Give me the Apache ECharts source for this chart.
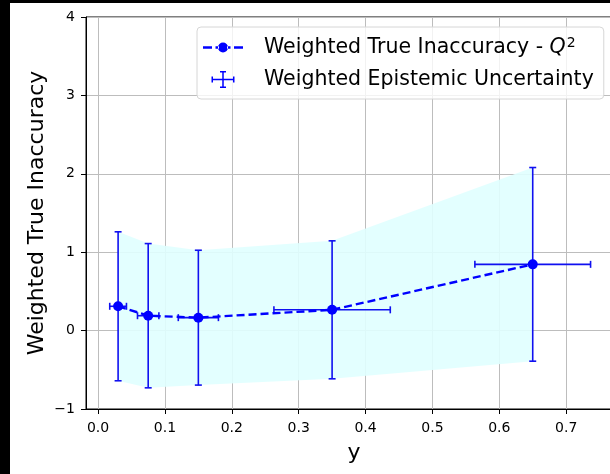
<!DOCTYPE html>
<html>
<head>
<meta charset="utf-8">
<script src="https://cdn.jsdelivr.net/npm/echarts@6/dist/echarts.min.js"></script>
<style>
  html, body { margin: 0; padding: 0; background: #000; overflow: hidden; }
  #chart { position: absolute; left: 10px; top: 3px; width: 612px; height: 471px; background: #fff; }
</style>
</head>
<body>
<div id="chart"></div>
<script>
// bin centres (y), weighted true inaccuracy and the error sizes
const xVals = [0.03, 0.075, 0.15, 0.35, 0.65];
const yVals = [0.31, 0.19, 0.165, 0.265, 0.845];
const xErr = [0.0125, 0.016, 0.03, 0.087, 0.0865];
const yErr = [0.95, 0.92, 0.86, 0.88, 1.235];

const lineName = 'Weighted True Inaccuracy - Q2';
const errName = 'Weighted Epistemic Uncertainty';
const blue = '#0000ff';
const font = 'DejaVu Sans';

var chartDom = document.getElementById('chart');
var myChart = echarts.init(chartDom);

// data rows for the series
var linePts = xVals.map(function (x, i) { return [x, yVals[i]]; });
var errRows = xVals.map(function (x, i) { return [x, yVals[i], xErr[i], yErr[i]]; });

var option = {
  animation: false,
  textStyle: { fontFamily: font },
  grid: {
    left: 76, top: 14, right: 0, bottom: 65,
    show: true, borderColor: '#000', borderWidth: 1
  },
  legend: {
    data: [
      { name: lineName, icon: 'path://M0,8.75h9v2.5h-9z M12.5,8.75h3.5v2.5h-3.5z M15,10A5,5 0 1,0 25,10A5,5 0 1,0 15,10z M24,8.75h3.5v2.5h-3.5z M31,8.75h9v2.5h-9z' },
      { name: errName, icon: 'path://M0,7.75h23v1.5h-23z M10.75,0h1.5v17h-1.5z M0,5.5h1.5v6h-1.5z M21.5,5.5h1.5v6h-1.5z M8.5,0h6v1.5h-6z M8.5,15.5h6v1.5h-6z' }
    ],
    orient: 'vertical',
    left: 187, top: 24,
    itemWidth: 40, itemHeight: 17, itemGap: 11,
    padding: [9, 10, 9, 6],
    backgroundColor: 'rgba(255,255,255,0.8)',
    borderColor: '#d6d6d6', borderWidth: 1, borderRadius: 4,
    itemStyle: { borderWidth: 0 },
    formatter: function (name) {
      if (name === lineName) return '{t|Weighted True Inaccuracy - }{q|Q}{s|2}';
      return '{t|' + name + '}';
    },
    textStyle: {
      fontFamily: font, fontSize: 20.5, color: '#000', padding: [0, 0, 0, 16],
      rich: {
        t: { fontFamily: font, fontSize: 20.5, lineHeight: 24, color: '#000' },
        q: { fontFamily: font, fontSize: 20.5, lineHeight: 24, fontStyle: 'italic', color: '#000' },
        s: { fontFamily: font, fontSize: 14, color: '#000', padding: [0, 0, 9, 1] }
      }
    }
  },
  xAxis: {
    type: 'value',
    min: -0.018, max: 0.7835,
    splitNumber: 8,
    name: 'y', nameLocation: 'middle', nameGap: 33,
    nameTextStyle: { fontFamily: font, fontSize: 22, color: '#000' },
    axisLine: { onZero: false, lineStyle: { color: '#000', width: 1 } },
    axisTick: { show: true, length: 5, lineStyle: { color: '#000' } },
    axisLabel: {
      showMinLabel: false, showMaxLabel: false, margin: 12,
      fontFamily: font, fontSize: 14, color: '#000',
      formatter: function (v) { return v.toFixed(1); }
    },
    splitLine: { show: true, lineStyle: { color: '#bdbdbd', width: 1 } }
  },
  yAxis: {
    type: 'value',
    min: -1, max: 4, interval: 1,
    name: 'Weighted True Inaccuracy', nameLocation: 'middle', nameGap: 38,
    nameMoveOverlap: false,
    nameTextStyle: { fontFamily: font, fontSize: 22, color: '#000' },
    axisLine: { show: true, onZero: false, lineStyle: { color: '#000', width: 1 } },
    axisTick: { show: true, length: 5, lineStyle: { color: '#000' } },
    axisLabel: {
      margin: 11, fontFamily: font, fontSize: 14, color: '#000',
      formatter: function (v) { return String(v).replace('-', '\u2212'); }
    },
    splitLine: { show: true, lineStyle: { color: '#bdbdbd', width: 1 } }
  },
  series: [
    {
      // shaded band y ± yErr
      type: 'custom',
      name: 'band',
      silent: true,
      z: 1,
      data: [[xVals[0], yVals[0]]],
      renderItem: function (params, api) {
        var pts = [];
        for (var i = 0; i < xVals.length; i++) pts.push(api.coord([xVals[i], yVals[i] + yErr[i]]));
        for (var j = xVals.length - 1; j >= 0; j--) pts.push(api.coord([xVals[j], yVals[j] - yErr[j]]));
        return { type: 'polygon', shape: { points: pts }, style: { fill: '#e0ffff', opacity: 0.9 } };
      }
    },
    {
      type: 'custom',
      name: errName,
      z: 3,
      itemStyle: { color: blue },
      data: errRows,
      renderItem: function (params, api) {
        var x = api.value(0), y = api.value(1), dx = api.value(2), dy = api.value(3);
        var top = api.coord([x, y + dy]), bot = api.coord([x, y - dy]);
        var lft = api.coord([x - dx, y]), rgt = api.coord([x + dx, y]);
        var c = 3.5;
        var st = { stroke: '#1010f0', lineWidth: 1.6 };
        var seg = function (x1, y1, x2, y2) {
          return { type: 'line', shape: { x1: x1, y1: y1, x2: x2, y2: y2 }, style: st };
        };
        return {
          type: 'group',
          children: [
            seg(top[0], top[1], bot[0], bot[1]),
            seg(lft[0], lft[1], rgt[0], rgt[1]),
            seg(top[0] - c, top[1], top[0] + c, top[1]),
            seg(bot[0] - c, bot[1], bot[0] + c, bot[1]),
            seg(lft[0], lft[1] - c, lft[0], lft[1] + c),
            seg(rgt[0], rgt[1] - c, rgt[0], rgt[1] + c)
          ]
        };
      }
    },
    {
      type: 'line',
      name: lineName,
      z: 4,
      data: linePts,
      symbol: 'circle',
      symbolSize: 10,
      itemStyle: { color: blue, borderWidth: 0 },
      lineStyle: { color: blue, width: 2.4, type: [8, 4] }
    }
  ]
};
myChart.setOption(option);
window.onresize = function () { myChart.resize(); };
</script>
</body>
</html>
